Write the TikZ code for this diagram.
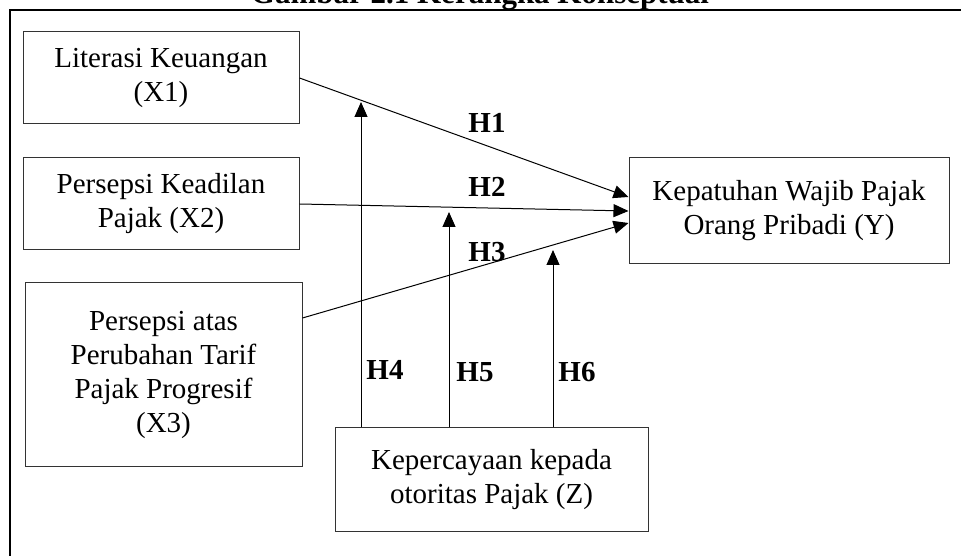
\documentclass[tikz,border=0pt]{standalone}
\usepackage{fontspec}
\setmainfont{Liberation Serif}
\usetikzlibrary{positioning, calc, arrows.meta}
\begin{document}
\begin{tikzpicture}[x=1pt,y=1pt,
var/.style={rectangle,draw=black!80,line width=1pt,align=center,inner sep=0pt,
  font=\fontsize{29}{34}\selectfont},
arr/.style={draw,line width=1pt,-{Triangle[length=15pt,width=13pt]}},
hyp/.style={font=\fontsize{29}{34}\selectfont\bfseries}]
\useasboundingbox (0,0) rectangle (961,556);
\clip (0,0) rectangle (961,556);
\node[anchor=base,font=\fontsize{31}{36}\selectfont\bfseries] (title) at (480,552) {Gambar 2.1 Kerangka Konseptual};
\draw[line width=2pt] (10,-20) -- (10,546) -- (990,546);
\node[var,minimum width=276pt,minimum height=92pt] (lit) at (161,478) {Literasi Keuangan\\(X1)};
\node[var,minimum width=276pt,minimum height=92pt] (adil) at (161,352) {Persepsi Keadilan\\Pajak (X2)};
\node[var,minimum width=277pt,minimum height=184pt] (tarif) at (163.5,181) {Persepsi atas\\Perubahan Tarif\\Pajak Progresif\\(X3)};
\node[var,minimum width=320pt,minimum height=106pt] (patuh) at (789,345) {Kepatuhan Wajib Pajak\\Orang Pribadi (Y)};
\node[var,minimum width=313pt,minimum height=104pt] (percaya) at (491.5,76) {Kepercayaan kepada\\otoritas Pajak (Z)};
\coordinate (m4) at (361,454);
\coordinate (m5) at (449,344);
\coordinate (m6) at (553,306);
\draw[arr] (lit.east) -- ($(patuh.west)+(0,14)$);
\draw[arr] (adil.east) -- (patuh.west);
\draw[arr] ($(tarif.east)+(0,57)$) -- ($(patuh.west)+(0,-12)$);
\draw[arr] (percaya.north -| m4) -- (m4);
\draw[arr] (percaya.north -| m5) -- (m5);
\draw[arr] (percaya.north -| m6) -- (m6);
\node[hyp] (h1) at (487,433) {H1};
\node[hyp] (h2) at (487,369) {H2};
\node[hyp] (h3) at (487,304) {H3};
\node[hyp] (h4) at (385,186) {H4};
\node[hyp] (h5) at (475,184) {H5};
\node[hyp] (h6) at (577,184) {H6};
\end{tikzpicture}
\end{document}
